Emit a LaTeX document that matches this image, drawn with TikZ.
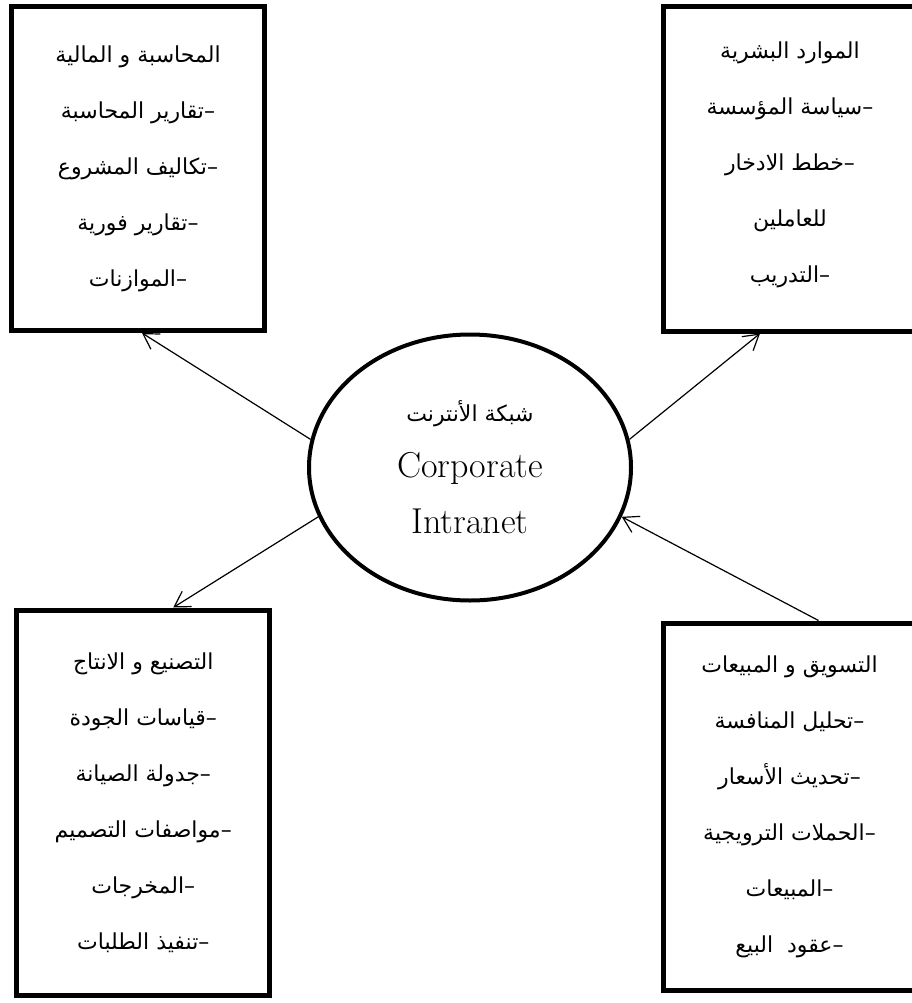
\documentclass[tikz,border=0pt]{standalone}
\usepackage{fontspec}
\usetikzlibrary{shapes.geometric,arrows.meta}
\newfontfamily\arabicfont[Script=Arabic]{DejaVu Sans}
\TeXXeTstate=1
\newcommand\rtlline[1]{\beginR#1\endR}
% leading dash kept as its own box so it stays on the right
\newcommand\itemdash{\hbox{–}}

\begin{document}
\begin{tikzpicture}[x=1pt,y=-1pt,
  dept/.style={draw, rectangle, line width=5pt, align=center, inner sep=0pt,
    minimum width=253pt, font=\arabicfont\fontsize{22}{56}\selectfont},
  hub/.style={draw, ellipse, line width=4pt, align=center, inner sep=0pt,
    minimum width=322pt, minimum height=266pt, font=\fontsize{36}{56}\selectfont},
  link/.style={line width=1.2pt, -{Straight Barb[length=15pt,width=18pt]}}
]
\useasboundingbox (0,0) rectangle (912,1003);

% central intranet
\node[hub] (hub) at (470,467.5)
  {{\arabicfont\fontsize{22}{56}\selectfont\rtlline{شبكة الأنترنت}}\\Corporate\\Intranet};

% departments
\node[dept, minimum height=324pt] (fin) at (138,168.5)
  {\rtlline{المحاسبة و المالية}\\
   \rtlline{\itemdash تقارير المحاسبة}\\
   \rtlline{\itemdash تكاليف المشروع}\\
   \rtlline{\itemdash تقارير فورية}\\
   \rtlline{\itemdash الموازنات}};

\node[dept, minimum height=324pt] (hr) at (790,169)
  {\rtlline{الموارد البشرية}\\
   \rtlline{\itemdash سياسة المؤسسة}\\
   \rtlline{\itemdash خطط الادخار}\\
   \rtlline{للعاملين}\\
   \rtlline{\itemdash التدريب}\\[-42pt]\mbox{}};

\node[dept, minimum height=385.5pt] (mfg) at (143.25,802.75)
  {\rtlline{التصنيع و الانتاج}\\
   \rtlline{\itemdash قياسات الجودة}\\
   \rtlline{\itemdash جدولة الصيانة}\\
   \rtlline{\itemdash مواصفات التصميم}\\
   \rtlline{\itemdash المخرجات}\\
   \rtlline{\itemdash تنفيذ الطلبات}};

\node[dept, minimum height=367pt] (sales) at (789.5,806.5)
  {\rtlline{التسويق و المبيعات}\\
   \rtlline{\itemdash تحليل المنافسة}\\
   \rtlline{\itemdash تحديث الأسعار}\\
   \rtlline{\itemdash الحملات الترويجية}\\
   \rtlline{\itemdash المبيعات}\\
   \rtlline{\itemdash عقود~ البيع}};

% connectors
\draw[link] (hub.170) -- ([xshift=4pt]fin.south);
\draw[link] (hub.198) -- ([xshift=30pt]mfg.north);
\draw[link] (hub.10) -- ([xshift=-30pt]hr.south);
\draw[link] ([xshift=29pt]sales.north) -- (hub.342);
\end{tikzpicture}
\end{document}
